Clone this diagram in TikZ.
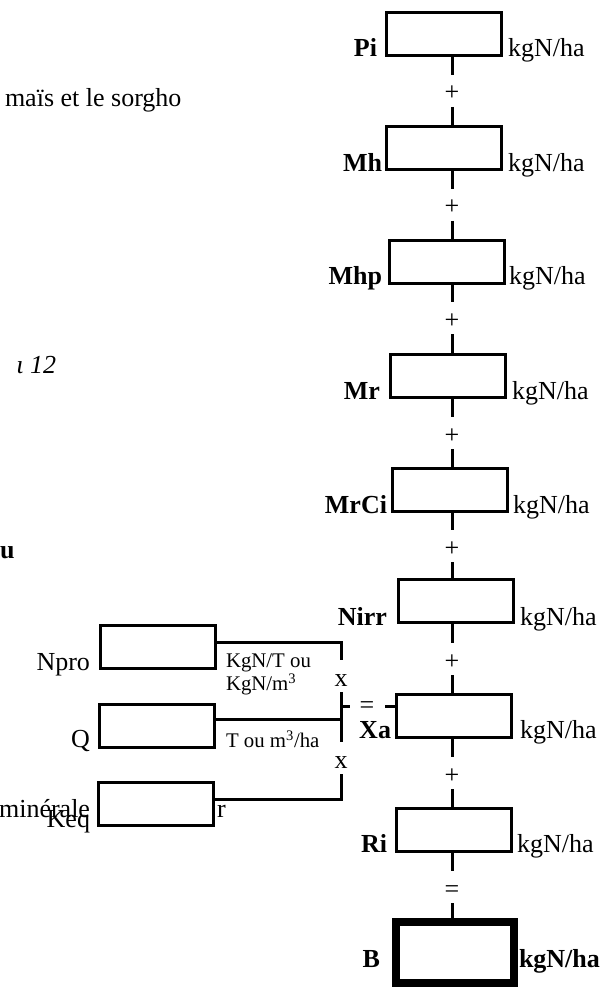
\documentclass[tikz,border=0pt]{standalone}
\usepackage{fontspec}
\setmainfont{Liberation Serif}
\begin{document}
\begin{tikzpicture}[x=0.75pt,y=-0.75pt,
  box/.style={draw,line width=2.25pt,line join=miter,minimum width=86.25pt,minimum height=32.25pt,inner sep=0pt,outer sep=0pt},
  bbox/.style={box,line width=6pt,minimum width=88.5pt,minimum height=45.75pt},
  op/.style={inner sep=0pt,outer sep=0pt,text height=19.5pt,text depth=4.5pt,anchor=north,font=\fontsize{19.5}{22}\selectfont},
  txt/.style={inner sep=0pt,outer sep=0pt,font=\fontsize{19.5}{22}\selectfont},
  sm/.style={inner sep=0pt,outer sep=0pt,font=\fontsize{15.6}{18}\selectfont},
  wire/.style={line width=2.25pt}]
\useasboundingbox (0,0) rectangle (606,987);

% main column boxes
\node[box] (Pi)   at (444,34.5)  {};
\node[box] (Mh)   at (444,148.5) {};
\node[box] (Mhp)  at (446.5,262) {};
\node[box] (Mr)   at (448,376)   {};
\node[box] (MrCi) at (450,490)   {};
\node[box] (Nirr) at (456,601)   {};
\node[box] (Xa)   at (454,715.5) {};
\node[box] (Ri)   at (454,829.5) {};
\node[bbox] (B)   at (455,952.5) {};

% left boxes
\node[box] (Npro) at (158,647)   {};
\node[box] (Q)    at (156.5,726) {};
\node[box] (Keq)  at (156,803.5) {};

% left labels of main column
\node[txt,anchor=base east] (lPi)   at (377,57)  {\textbf{Pi}};
\node[txt,anchor=base east] (lMh)   at (382,172) {\textbf{Mh}};
\node[txt,anchor=base east] (lMhp)  at (382,285) {\textbf{Mhp}};
\node[txt,anchor=base east] (lMr)   at (380,399) {\textbf{Mr}};
\node[txt,anchor=base east] (lMrCi) at (387,513) {\textbf{MrCi}};
\node[txt,anchor=base east] (lNirr) at (387,625) {\textbf{Nirr}};
\node[txt,anchor=base east] (lXa)   at (391,738) {\textbf{Xa}};
\node[txt,anchor=base east] (lRi)   at (387,852) {\textbf{Ri}};
\node[txt,anchor=base east] (lB)    at (380,967) {\textbf{B}};

% unit labels
\node[txt,anchor=base west] (uPi)   at (508,57)  {kgN/ha};
\node[txt,anchor=base west] (uMh)   at (508,172) {kgN/ha};
\node[txt,anchor=base west] (uMhp)  at (509,285) {kgN/ha};
\node[txt,anchor=base west] (uMr)   at (512,399) {kgN/ha};
\node[txt,anchor=base west] (uMrCi) at (513,513) {kgN/ha};
\node[txt,anchor=base west] (uNirr) at (520,625) {kgN/ha};
\node[txt,anchor=base west] (uXa)   at (520,738) {kgN/ha};
\node[txt,anchor=base west] (uRi)   at (517,852) {kgN/ha};
\node[txt,anchor=base west] (uB)    at (519,967) {\textbf{kgN/ha}};

% operators in the main column
\node[op] (o1) at (452,75)  {+};
\node[op] (o2) at (452,189) {+};
\node[op] (o3) at (452,302) {+};
\node[op] (o4) at (452,417) {+};
\node[op] (o5) at (452,530) {+};
\node[op] (o6) at (452,643) {+};
\node[op] (o7) at (452,757) {+};
\node[op] (o8) at (452,871) {=};

\draw[wire] (Pi.south -| o1) -- (o1.north);   \draw[wire] (o1.south) -- (Mh.north -| o1);
\draw[wire] (Mh.south -| o2) -- (o2.north);   \draw[wire] (o2.south) -- (Mhp.north -| o2);
\draw[wire] (Mhp.south -| o3) -- (o3.north);  \draw[wire] (o3.south) -- (Mr.north -| o3);
\draw[wire] (Mr.south -| o4) -- (o4.north);   \draw[wire] (o4.south) -- (MrCi.north -| o4);
\draw[wire] (MrCi.south -| o5) -- (o5.north); \draw[wire] (o5.south) -- (Nirr.north -| o5);
\draw[wire] (Nirr.south -| o6) -- (o6.north); \draw[wire] (o6.south) -- (Xa.north -| o6);
\draw[wire] (Xa.south -| o7) -- (o7.north);   \draw[wire] (o7.south) -- (Ri.north -| o7);
\draw[wire] (Ri.south -| o8) -- (o8.north);   \draw[wire] (o8.south) -- (B.north -| o8);

% left bracket
\node[op] (x1) at (341,660) {x};
\node[op] (x2) at (341,742) {x};
\coordinate (jN) at (341,642);
\coordinate (jQ) at (341,719);
\coordinate (jK) at (341,799);
\coordinate (jT) at (341,706);
\coordinate (tT) at (350,706);
\coordinate (xaL) at (385,706);
\draw[wire] (Npro.east |- jN) -- (jN) -- (x1.north);
\draw[wire] (x1.south) -- (x2.north);
\draw[wire] (Q.east |- jQ) -- (jQ);
\draw[wire] (x2.south) -- (jK) -- (Keq.east |- jK);
\draw[wire] (jT) -- (tT);
\draw[wire] (xaL) -- (Xa.west |- xaL);
\node[txt,anchor=base] (eq0) at (367,713) {=};

% left box labels
\node[txt,anchor=base east] (lNpro) at (90,670) {Npro};
\node[txt,anchor=base east] (lQ)    at (90,747) {Q};
\node[txt,anchor=base east] (lKeq)  at (90,827) {Keq};
\node[txt,anchor=base east] (lmin)  at (90,817) {minérale};
\node[txt,anchor=base west] (lr)    at (217,817) {r};

% unit texts near left boxes
\node[sm,anchor=base west] (uN1) at (226,667) {KgN/T ou};
\node[sm,anchor=base west] (uN2) at (226,690) {KgN/m\textsuperscript{3}};
\node[sm,anchor=base west] (uQ)  at (226,747) {T ou m\textsuperscript{3}/ha};

% stray texts at left
\node[txt,anchor=base west] (t1) at (5,107) {maïs et le sorgho};
\node[txt,anchor=base east] (t2) at (56,373) {\textit{ι 12}};
\node[txt,anchor=base west] (t3) at (0,558) {\textbf{u}};
\end{tikzpicture}
\end{document}
